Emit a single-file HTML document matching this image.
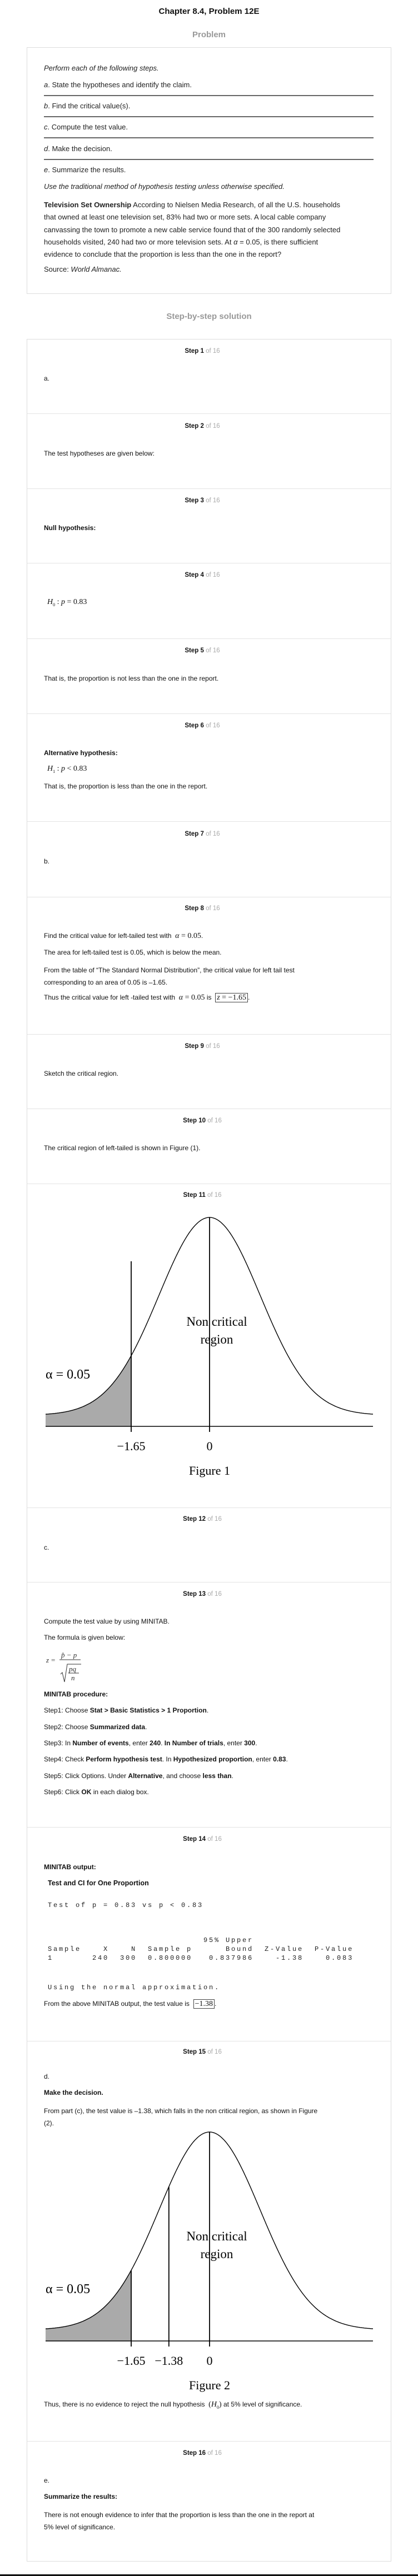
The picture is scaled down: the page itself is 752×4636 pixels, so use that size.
<!DOCTYPE html>
<html><head><meta charset="utf-8">
<style>
html,body{margin:0;padding:0;background:#fff;}
body{width:752px;height:4636px;position:relative;overflow:hidden;font-family:"Liberation Sans",Arial,sans-serif;color:#111;}
.a{position:absolute;white-space:nowrap;line-height:16px;}
.t{font-size:12px;left:79px;}
.p{font-size:13px;left:79px;color:#222;}
.h{left:0;width:728px;text-align:center;font-size:11.5px;font-weight:bold;color:#111;}
.h span{color:#aaa;font-weight:normal;}
.div{position:absolute;left:49px;width:654px;height:1px;background:#e3e3e3;}
.rule{position:absolute;left:79px;width:593px;height:2px;background:#666;}
.m{font-family:"Liberation Serif",serif;font-size:14px;}
.i{font-style:italic;}
pre{margin:0;font-family:"Liberation Mono",monospace;font-size:12px;letter-spacing:2.8px;line-height:21px;color:#222;white-space:pre !important;}
.box{border:1px solid #444;padding:0 2px;}
</style></head><body>

<div class="a" style="left:0;width:752px;text-align:center;top:12px;font-size:15px;font-weight:bold;line-height:18px;">Chapter 8.4, Problem 12E</div>
<div class="a" style="left:0;width:752px;text-align:center;top:54px;font-size:15px;font-weight:bold;color:#999;line-height:18px;">Problem</div>

<div style="position:absolute;left:48px;top:85px;width:654px;height:442px;border:1px solid #ddd;"></div>
<div class="a p i" style="top:115px;">Perform each of the following steps.</div>
<div class="a p" style="top:145px;"><i>a</i>. State the hypotheses and identify the claim.</div>
<div class="rule" style="top:171px;"></div>
<div class="a p" style="top:183px;"><i>b</i>. Find the critical value(s).</div>
<div class="rule" style="top:209px;"></div>
<div class="a p" style="top:221px;"><i>c</i>. Compute the test value.</div>
<div class="rule" style="top:247px;"></div>
<div class="a p" style="top:260px;"><i>d</i>. Make the decision.</div>
<div class="rule" style="top:286px;"></div>
<div class="a p" style="top:298px;"><i>e</i>. Summarize the results.</div>
<div class="a p i" style="top:328px;">Use the traditional method of hypothesis testing unless otherwise specified.</div>
<div class="a p" style="top:358px;line-height:22.3px;"><b>Television Set Ownership</b> According to Nielsen Media Research, of all the U.S. households<br>that owned at least one television set, 83% had two or more sets. A local cable company<br>canvassing the town to promote a new cable service found that of the 300 randomly selected<br>households visited, 240 had two or more television sets. At <i>α</i> = 0.05, is there sufficient<br>evidence to conclude that the proportion is less than the one in the report?</div>
<div class="a p" style="top:477px;">Source: <i>World Almanac.</i></div>

<div class="a" style="left:0;width:752px;text-align:center;top:561px;font-size:15px;font-weight:bold;color:#999;line-height:18px;">Step-by-step solution</div>

<div style="position:absolute;left:48px;top:610px;width:654px;height:3998px;border:1px solid #ddd;"></div>
<div class="div" style="top:744px"></div>
<div class="div" style="top:879px"></div>
<div class="div" style="top:1013px"></div>
<div class="div" style="top:1149px"></div>
<div class="div" style="top:1284px"></div>
<div class="div" style="top:1478px"></div>
<div class="div" style="top:1614px"></div>
<div class="div" style="top:1861px"></div>
<div class="div" style="top:1995px"></div>
<div class="div" style="top:2130px"></div>
<div class="div" style="top:2713px"></div>
<div class="div" style="top:2847px"></div>
<div class="div" style="top:3288px"></div>
<div class="div" style="top:3673px"></div>
<div class="div" style="top:4393px"></div>

<div class="a h" style="top:624px">Step 1 <span>of 16</span></div>
<div class="a t" style="top:673px">a.</div>
<div class="a h" style="top:759px">Step 2 <span>of 16</span></div>
<div class="a t" style="top:808px">The test hypotheses are given below:</div>
<div class="a h" style="top:893px">Step 3 <span>of 16</span></div>
<div class="a t" style="top:942px;font-weight:bold">Null hypothesis:</div>
<div class="a h" style="top:1027px">Step 4 <span>of 16</span></div>
<div class="a t m" style="top:1076px;left:85px"><i>H</i><sub style="font-size:8px">0</sub> : <i>p</i> = 0.83</div>
<div class="a h" style="top:1163px">Step 5 <span>of 16</span></div>
<div class="a t" style="top:1213px">That is, the proportion is not less than the one in the report.</div>
<div class="a h" style="top:1298px">Step 6 <span>of 16</span></div>
<div class="a t" style="top:1347px;font-weight:bold">Alternative hypothesis:</div>
<div class="a t m" style="top:1376px;left:85px"><i>H</i><sub style="font-size:8px">1</sub> : <i>p</i> &lt; 0.83</div>
<div class="a t" style="top:1407px">That is, the proportion is less than the one in the report.</div>
<div class="a h" style="top:1493px">Step 7 <span>of 16</span></div>
<div class="a t" style="top:1542px">b.</div>
<div class="a h" style="top:1627px">Step 8 <span>of 16</span></div>
<div class="a t" style="top:1676px">Find the critical value for left-tailed test with &nbsp;<span class="m"><i>α</i> = 0.05</span>.</div>
<div class="a t" style="top:1706px">The area for left-tailed test is 0.05, which is below the mean.</div>
<div class="a t" style="top:1735px;line-height:22px">From the table of “The Standard Normal Distribution”, the critical value for left tail test<br>corresponding to an area of 0.05 is –1.65.</div>
<div class="a t" style="top:1787px">Thus the critical value for left -tailed test with &nbsp;<span class="m"><i>α</i> = 0.05</span> is &nbsp;<span class="m box"><i>z</i> = −1.65</span>.</div>
<div class="a h" style="top:1875px">Step 9 <span>of 16</span></div>
<div class="a t" style="top:1924px">Sketch the critical region.</div>
<div class="a h" style="top:2009px">Step 10 <span>of 16</span></div>
<div class="a t" style="top:2058px">The critical region of left-tailed is shown in Figure (1).</div>
<div class="a h" style="top:2143px">Step 11 <span>of 16</span></div>
<svg id="fig1" style="position:absolute;left:0;top:2180px" width="752" height="500"></svg>

<div class="a h" style="top:2726px">Step 12 <span>of 16</span></div>
<div class="a t" style="top:2777px">c.</div>
<div class="a h" style="top:2861px">Step 13 <span>of 16</span></div>
<div class="a t" style="top:2910px">Compute the test value by using MINITAB.</div>
<div class="a t" style="top:2939px">The formula is given below:</div>
<svg style="position:absolute;left:80px;top:2965px" width="80" height="66">
<g font-family="Liberation Serif, serif" font-style="italic" font-size="13" fill="#333">
<text x="3" y="27">z</text><text x="12" y="27" font-style="normal">=</text>
<text x="30" y="18">p̂ − p</text>
<line x1="27" y1="22" x2="65" y2="22" stroke="#333" stroke-width="1"/>
<path d="M29 48 L32 45 L36 62 L41 30 L66 30" fill="none" stroke="#333" stroke-width="1"/>
<text x="44" y="43">pq</text>
<line x1="43" y1="46" x2="62" y2="46" stroke="#333" stroke-width="1"/>
<text x="48" y="59">n</text></g></svg>
<div class="a t" style="top:3041px;font-weight:bold">MINITAB procedure:</div>
<div class="a t" style="top:3070px">Step1: Choose <b>Stat &gt; Basic Statistics &gt; 1 Proportion</b>.</div>
<div class="a t" style="top:3100px">Step2: Choose <b>Summarized data</b>.</div>
<div class="a t" style="top:3129px">Step3: In <b>Number of events</b>, enter <b>240</b>. <b>In Number of trials</b>, enter <b>300</b>.</div>
<div class="a t" style="top:3158px">Step4: Check <b>Perform hypothesis test</b>. In <b>Hypothesized proportion</b>, enter <b>0.83</b>.</div>
<div class="a t" style="top:3188px">Step5: Click Options. Under <b>Alternative</b>, and choose <b>less than</b>.</div>
<div class="a t" style="top:3217px">Step6: Click <b>OK</b> in each dialog box.</div>
<div class="a h" style="top:3302px">Step 14 <span>of 16</span></div>
<div class="a t" style="top:3352px;font-weight:bold">MINITAB output:</div>
<div class="a t" style="top:3381px;left:86px;font-weight:bold;font-size:12.5px">Test and CI for One Proportion</div>
<pre class="a" style="left:86px;top:3421px">Test of p = 0.83 vs p &lt; 0.83</pre>
<pre class="a" style="left:86px;top:3484px">                            95% Upper
Sample    X    N  Sample p      Bound  Z-Value  P-Value
1       240  300  0.800000   0.837986    -1.38    0.083</pre>
<pre class="a" style="left:86px;top:3569px">Using the normal approximation.</pre>
<div class="a t" style="top:3598px">From the above MINITAB output, the test value is &nbsp;<span class="m box">−1.38</span>.</div>
<div class="a h" style="top:3685px">Step 15 <span>of 16</span></div>
<div class="a t" style="top:3729px">d.</div>
<div class="a t" style="top:3758px;font-weight:bold">Make the decision.</div>
<div class="a t" style="top:3788px;line-height:22px">From part (c), the test value is –1.38, which falls in the non critical region, as shown in Figure<br>(2).</div>
<svg id="fig2" style="position:absolute;left:0;top:3826px" width="752" height="490"></svg>
<div class="a t" style="top:4319px">Thus, there is no evidence to reject the null hypothesis &nbsp;<span class="m">(<i>H</i><sub style="font-size:8px">0</sub>)</span> at 5% level of significance.</div>
<div class="a h" style="top:4407px">Step 16 <span>of 16</span></div>
<div class="a t" style="top:4456px">e.</div>
<div class="a t" style="top:4485px;font-weight:bold">Summarize the results:</div>
<div class="a t" style="top:4515px;line-height:22px">There is not enough evidence to infer that the proportion is less than the one in the report at<br>5% level of significance.</div>
<div style="position:absolute;left:0;top:4633px;width:752px;height:3px;background:#111;"></div>

<script>
// chart data
const alphaLevel = 0.05;
const criticalZ = [-1.65];
const fig1Ticks = [-1.65, 0];
const fig1TickLabels = ["\u22121.65", "0"];
const fig2Ticks = [-1.65, -1.38, 0];
const fig2TickLabels = ["\u22121.65", "\u22121.38", "0"];
const testZ = [-1.38];
const zDomain = [-3.45, 3.45];

const NS = "http://www.w3.org/2000/svg";
const X0 = 82, X1 = 671, CX = 377, BASE = 387, TAIL = 367, AMP = 356, SIGPX = 91;
// schematic (not-to-scale) axis: compressed near the mean, as in the textbook sketch
function xs(z){
  const a = Math.abs(z), s = z < 0 ? -1 : 1;
  const k = 141, ref = 1.65;
  if (a <= ref) return CX + s * k * Math.pow(a / ref, 3.67);
  return CX + s * (k + (a - ref) / (zDomain[1] - ref) * (CX - X0 - k));
}
function yx(x){ const d = x - CX; return TAIL - AMP * Math.exp(-d*d/(2*SIGPX*SIGPX)); }
function mk(svg, tag, attrs){ const e = document.createElementNS(NS, tag); for (const k in attrs) e.setAttribute(k, attrs[k]); svg.appendChild(e); return e; }

function drawFig(id, ticks, labels, markZ, figLabel, tallCrit){
  const svg = document.getElementById(id);
  const xc = xs(criticalZ[0]);
  let d = "M" + X0 + " " + BASE;
  for (let x = X0; x <= xc; x += 1) d += " L" + x + " " + yx(x).toFixed(1);
  d += " L" + xc.toFixed(1) + " " + yx(xc).toFixed(1) + " L" + xc.toFixed(1) + " " + BASE + " Z";
  const area = mk(svg, "path", {d: d, fill: "#aaa"});
  
  
  let c = "";
  for (let x = X0; x <= X1; x += 1) c += (c ? " L" : "M") + x + " " + yx(x).toFixed(1);
  const curve = mk(svg, "path", {d: c, fill: "none", stroke: "#000", "stroke-width": 1.4});
  
  
  const ax = mk(svg, "line", {x1: X0, x2: X1, y1: BASE, y2: BASE, stroke: "#000", "stroke-width": 1.6});
  
  
  const ml = mk(svg, "line", {x1: xs(0), x2: xs(0), y1: yx(xs(0)), y2: BASE + 10, stroke: "#000", "stroke-width": 1.8});
  
  
  const cl = mk(svg, "line", {x1: xc, x2: xc, y1: tallCrit ? yx(xc) - 170 : yx(xc), y2: BASE + 10, stroke: "#000", "stroke-width": 1.8});
  
  
  markZ.forEach(function(z){
    const tl = mk(svg, "line", {x1: xs(z), x2: xs(z), y1: yx(xs(z)), y2: BASE + 10, stroke: "#000", "stroke-width": 1.8});
    
    
  });
  ticks.forEach(function(z, i){
    const t = mk(svg, "text", {x: xs(z), y: 430, "text-anchor": "middle", "font-family": "Liberation Serif, serif", "font-size": 22});
    t.textContent = labels[i];
    
    
  });
  const al = mk(svg, "text", {x: 82, y: 301, "font-family": "Liberation Serif, serif", "font-size": 24});
  al.textContent = "\u03B1 = " + alphaLevel.toFixed(2);
  
  
  const n1 = mk(svg, "text", {x: 390, y: 206, "text-anchor": "middle", "font-family": "Liberation Serif, serif", "font-size": 23});
  n1.textContent = "Non critical";
  
  
  const n2 = mk(svg, "text", {x: 390, y: 238, "text-anchor": "middle", "font-family": "Liberation Serif, serif", "font-size": 23});
  n2.textContent = "region";
  
  
  const fl = mk(svg, "text", {x: 377, y: 474, "text-anchor": "middle", "font-family": "Liberation Serif, serif", "font-size": 22});
  fl.textContent = figLabel;
  
  
}
drawFig("fig1", fig1Ticks, fig1TickLabels, [], "Figure 1", true);
drawFig("fig2", fig2Ticks, fig2TickLabels, testZ, "Figure 2", false);
</script>
</body></html>
